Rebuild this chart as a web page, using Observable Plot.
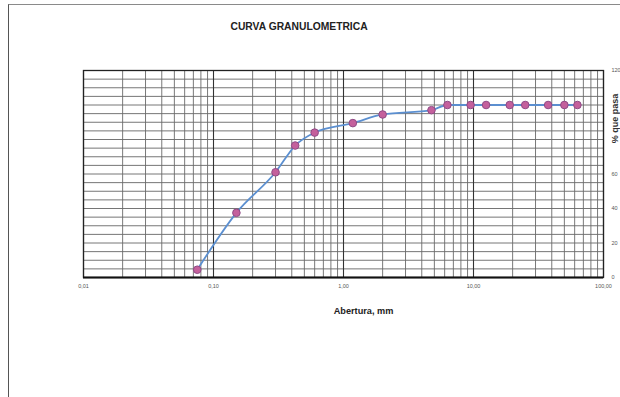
<!DOCTYPE html>
<html>
<head>
<meta charset="utf-8">
<script src="https://cdn.jsdelivr.net/npm/d3@7"></script>
<script src="https://cdn.jsdelivr.net/npm/@observablehq/plot@0.6"></script>
<style>
  body { margin: 0; background: #fff; }
  #wrap { position: relative; width: 620px; height: 397px; overflow: hidden; }
  #page { position: absolute; left: 8px; top: 4px; width: 640px; height: 420px;
          border-top: 1px solid #8a8a8a; border-left: 1px solid #555; }
  svg { position: absolute; left: 0; top: 0; }
</style>
</head>
<body>
<div id="wrap"><div id="page"></div></div>
<script>
const title = "CURVA GRANULOMETRICA";
const xLabel = "Abertura, mm";
const yLabel = "% que pasa";

// sieve openings (mm) and % passing
const abertura = [0.075, 0.15, 0.3, 0.425, 0.6, 1.18, 2.0, 4.75, 6.3, 9.5, 12.5, 19, 25, 37.5, 50, 63];
const pasa     = [4.5, 37.5, 61, 76.5, 84, 89.5, 94.5, 97, 100, 100, 100, 100, 100, 100, 100, 100];

const xTicks = [0.01, 0.1, 1, 10, 100];
const xTickLabels = ["0,01", "0,10", "1,00", "10,00", "100,00"];
const yTicks = [0, 20, 40, 60, 120];
const yTickLabels = ["0", "20", "40", "60", "120"];

const data = abertura.map((a, i) => ({a, p: pasa[i]}));

// log grid lines: 2..9 within each decade
const minor = [];
for (let e = -2; e < 2; e++) for (let k = 2; k <= 9; k++) minor.push(k * Math.pow(10, e));
const hGrid = d3.range(5, 120, 5);

const font = "Liberation Sans, Arial, sans-serif";

const chart = Plot.plot({
  width: 620,
  height: 397,
  marginLeft: 83,
  marginRight: 17,
  marginTop: 70,
  marginBottom: 120,
  style: {fontFamily: font, background: "transparent"},
  x: {type: "log", domain: [0.01, 100], axis: null},
  y: {domain: [0, 120], axis: null},
  marks: [
    Plot.ruleY(hGrid, {stroke: "#666", strokeWidth: 0.9}),
    Plot.ruleX(minor, {stroke: "#6a6a6a", strokeWidth: 0.9}),
    Plot.ruleX(xTicks, {stroke: "#333", strokeWidth: 1.1}),
    Plot.frame({stroke: "#222", strokeWidth: 1.3}),
    Plot.ruleY([0], {stroke: "#111", strokeWidth: 2}),
    Plot.line(data, {x: "a", y: "p", stroke: "#5b8fd0", strokeWidth: 1.8, curve: "monotone-x"}),
    Plot.dot(data, {x: "a", y: "p", r: 3.8, fill: "#c4609c", stroke: "#8e4a86", strokeWidth: 1, symbol: "circle"}),
    Plot.text(xTicks, {x: d => d, frameAnchor: "bottom", dy: 10, text: (d, i) => xTickLabels[i],
      fontSize: 5.5, fill: "#555"}),
    Plot.text(yTicks, {y: d => d, frameAnchor: "right", dx: 8, textAnchor: "start", text: (d, i) => yTickLabels[i],
      fontSize: 5.5, fill: "#555"}),
    Plot.text([title], {frameAnchor: "top-left", dx: 147, dy: -48, text: d => d,
      fontSize: 10.3, fontWeight: "bold", fill: "#222"}),
    Plot.text([xLabel], {frameAnchor: "bottom-left", dx: 280, dy: 36, textAnchor: "middle", text: d => d,
      fontSize: 9.2, fontWeight: "bold", fill: "#222"}),
    Plot.text([yLabel], {frameAnchor: "top-right", dx: 8, dy: 48, rotate: -90, textAnchor: "middle", text: d => d,
      fontSize: 9, fontWeight: "bold", fill: "#333"})
  ]
});
document.getElementById("wrap").appendChild(chart);
</script>
</body>
</html>
